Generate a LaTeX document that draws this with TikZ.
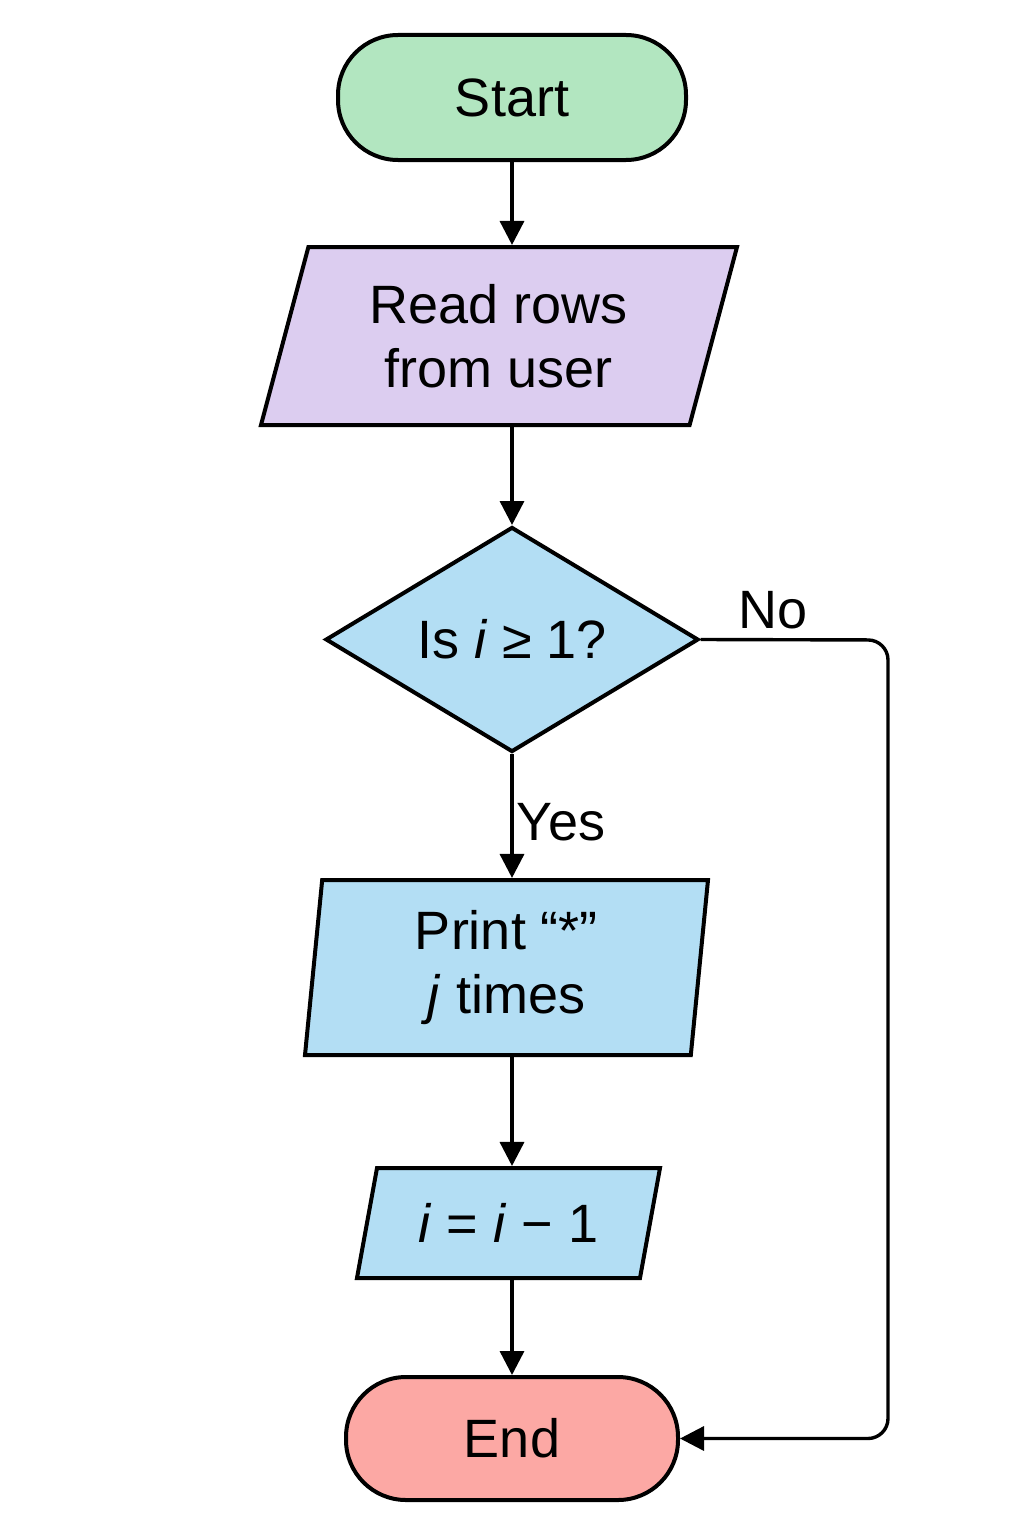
\documentclass[tikz,border=0pt]{standalone}
\usepackage{fontspec}
\setmainfont{Liberation Sans}
\usetikzlibrary{shapes.geometric,arrows.meta}

\definecolor{startgreen}{HTML}{B2E6C0}
\definecolor{readlilac}{HTML}{DCCDF0}
\definecolor{stepblue}{HTML}{B3DEF4}
\definecolor{endred}{HTML}{FCA8A4}

\begin{document}
\begin{tikzpicture}[x=0.5pt,y=-0.5pt,
    font=\fontsize{27}{32}\selectfont,
    terminal/.style={draw, line width=2pt, rectangle, rounded corners=30pt, minimum width=174pt, align=center},
    iobox/.style={draw, line width=2pt, trapezium, trapezium stretches body, align=center, inner sep=2pt},
    decision/.style={draw, line width=2pt, diamond, shape aspect=1.66, inner sep=0pt, minimum width=186.5pt, minimum height=112.5pt},
    conn/.style={line width=1.7pt, -{Triangle[length=12pt,width=12pt]}}]
  \useasboundingbox (0,0) rectangle (1024,1536);

  \node[terminal, fill=startgreen, minimum height=62.5pt] (start) at (512,97.5) {Start};
  \node[iobox, fill=readlilac, trapezium left angle=67, trapezium right angle=113,
        minimum width=238pt, minimum height=89pt] (read) at (499,336) {Read rows\\from user};
  \node[decision, fill=stepblue] (dec) at (512,639.5) {Is \textit{i} ≥ 1?};
  \node[iobox, fill=stepblue, trapezium left angle=82, trapezium right angle=98,
        minimum width=201.5pt, minimum height=87.5pt] (print) at (506.5,967.5) {Print “*”\\\textit{j} times};
  \node[iobox, fill=stepblue, trapezium left angle=67, trapezium right angle=113,
        minimum width=151.5pt, minimum height=55pt] (step) at (508.5,1223) {\textit{i} = \textit{i} − 1};
  \node[terminal, fill=endred, minimum width=166pt, minimum height=61.5pt] (end) at (512,1438.5) {End};

  \node (no) at (773,610) {No};
  \node (yes) at (561,822) {Yes};
  \coordinate (noturn) at (888,640);

  \draw[conn] (start.south) -- (start.south |- read.north);
  \draw[conn] (read.south -| dec.north) -- (dec.north);
  \draw[conn] (dec.south) -- (dec.south |- print.north);
  \draw[conn] (print.south -| dec.south) -- (dec.south |- step.north);
  \draw[conn] (step.south -| end.north) -- (end.north);
  \draw[conn, rounded corners=10pt] (dec.east) -- (noturn) |- (end.east);
\end{tikzpicture}
\end{document}
